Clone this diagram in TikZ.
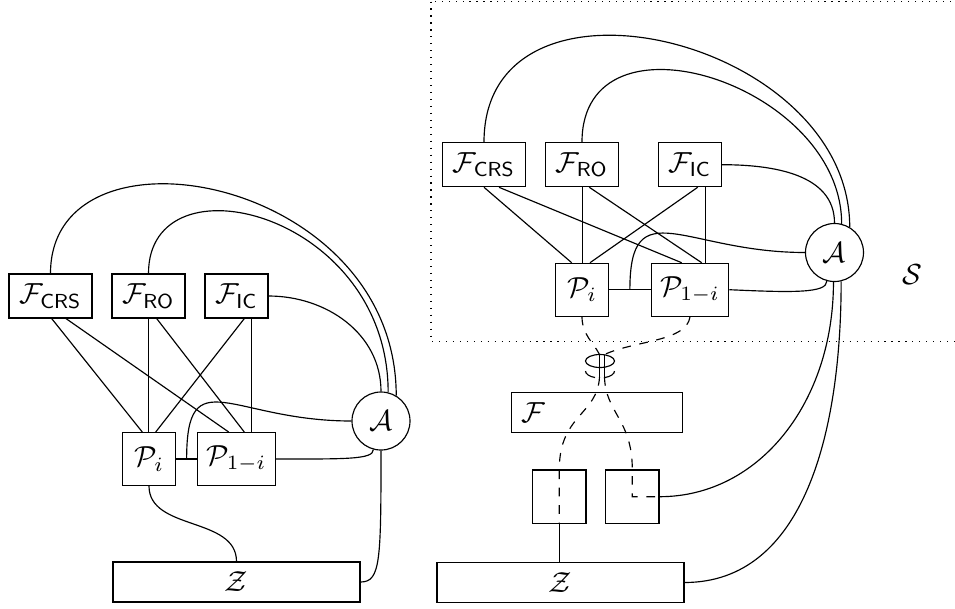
\documentclass[tikz,border=0pt]{standalone}
\usetikzlibrary{calc}
\begin{document}
\begin{tikzpicture}[x=0.3448pt,y=-0.3448pt,
  fbox/.style={draw,inner sep=0pt,minimum height=15.17pt},
  pbox/.style={draw,inner sep=0pt,minimum height=18.2pt},
  adv/.style={draw,circle,inner sep=0pt,minimum size=20pt},
  zbox/.style={draw,inner sep=0pt,minimum width=85.17pt,minimum height=13.8pt},
  sbox/.style={draw,inner sep=0pt,minimum size=18.38pt},
  qwire/.style={dashed}]
\useasboundingbox (0,0) rectangle (955,608);

% ---------------- left picture ----------------
\node[fbox,minimum width=28.62pt] (Fcrs1) at (50.5,296) {$\mathcal{F}_{\mathsf{CRS}}$};
\node[fbox,minimum width=25.17pt] (Fro1) at (148.5,296) {$\mathcal{F}_{\mathsf{RO}}$};
\node[fbox,minimum width=21.72pt] (Fic1) at (236.5,296) {$\mathcal{F}_{\mathsf{IC}}$};
\node[pbox,minimum width=18.27pt] (Pi1) at (149,459) {$\mathcal{P}_i$};
\node[pbox,minimum width=26.7pt] (Pj1) at (236.5,459) {$\mathcal{P}_{1-i}$};
\node[adv] (A1) at (381,421) {$\mathcal{A}$};
\node[zbox] (Z1) at (236.5,582) {$\mathcal{Z}$};

\coordinate (ro1b) at ($(Pi1.north)+(-0.7,0)$);
\draw ($(Fcrs1.south)+(1.2,0)$) -- ($(Pi1.north)+(-6.7,0)$);
\draw ($(Fcrs1.south)+(15.5,0)$) -- ($(Pj1.north)+(-7.8,0)$);
\draw (ro1b) -- (ro1b |- Fro1.south);
\draw ($(Fro1.south)+(8.2,0)$) -- ($(Pj1.north)+(7.8,0)$);
\draw ($(Fic1.south)+(7.8,0)$) -- ($(Pi1.north)+(6.7,0)$);
\draw ($(Fic1.south)+(15.2,0)$) -- ($(Pj1.north)+(15.2,0)$);
\draw (Pi1.east) -- (Pj1.west);
\coordinate (m1) at ($(Pi1.east)!0.5!(Pj1.west)$);

\draw (Fcrs1.north) .. controls ($(Fcrs1.north)+(0,-160)$) and ($(A1.59)+(0,-220)$) .. (A1.59);
\draw (Fro1.north) .. controls ($(Fro1.north)+(0,-120)$) and ($(A1.76)+(0,-180)$) .. (A1.76);
\draw (Fic1.east) to[out=0,in=90] (A1.90);
\draw (A1.west) .. controls ($(A1.west)+(-120,0)$) and ($(m1)+(0,-100)$) .. (m1);
\draw (Pj1.east) .. controls ($(Pj1.east)+(70,0)$) and ($(A1.255)+(0,10)$) .. (A1.255);
\draw (A1.south) .. controls ($(A1.south)+(0,110)$) and ($(Z1.east)+(20,0)$) .. (Z1.east);
\draw (Pi1.south) .. controls ($(Pi1.south)+(0,45)$) and ($(Z1.north)+(0,-45)$) .. (Z1.north);

% ---------------- right picture ----------------
\draw[dotted] (431,1.5) rectangle (960,341.5);
\node (S) at (912,275) {$\mathcal{S}$};

\node[fbox,minimum width=28.62pt] (Fcrs2) at (484,164.7) {$\mathcal{F}_{\mathsf{CRS}}$};
\node[fbox,minimum width=25.17pt] (Fro2) at (582,164.7) {$\mathcal{F}_{\mathsf{RO}}$};
\node[fbox,minimum width=21.72pt] (Fic2) at (690,164.7) {$\mathcal{F}_{\mathsf{IC}}$};
\node[pbox,minimum width=18.27pt] (Pi2) at (582,289.7) {$\mathcal{P}_i$};
\node[pbox,minimum width=26.7pt] (Pj2) at (690,289.7) {$\mathcal{P}_{1-i}$};
\node[adv] (A2) at (834.5,252.5) {$\mathcal{A}$};

\node[draw,inner xsep=3.5pt,inner ysep=0pt,text width=51.96pt,minimum height=13.8pt,align=left] (F) at (597.2,412.5) {$\mathcal{F}$};
\node[sbox] (B1) at (559.3,496.7) {};
\node[sbox] (B2) at (632.3,496.7) {};
\node[zbox] (Z2) at (560.5,582.5) {$\mathcal{Z}$};

\draw (Fcrs2.south) -- ($(Pi2.north)+(-10.3,0)$);
\draw ($(Fcrs2.south)+(15,0)$) -- ($(Pj2.north)+(-8.3,0)$);
\draw ($(Fro2.south)+(0.5,0)$) -- ($(Pi2.north)+(0.5,0)$);
\draw ($(Fro2.south)+(7.3,0)$) -- ($(Pj2.north)+(11.7,0)$);
\draw ($(Fic2.south)+(7.7,0)$) -- ($(Pi2.north)+(8,0)$);
\draw ($(Fic2.south)+(15.5,0)$) -- ($(Pj2.north)+(15.5,0)$);
\draw (Pi2.east) -- (Pj2.west);
\coordinate (m2) at ($(Pi2.east)!0.5!(Pj2.west)$);

\draw (Fcrs2.north) .. controls ($(Fcrs2.north)+(0,-190)$) and ($(A2.59)+(0,-190)$) .. (A2.59);
\draw (Fro2.north) .. controls ($(Fro2.north)+(0,-140)$) and ($(A2.76)+(0,-140)$) .. (A2.76);
\draw (Fic2.east) to[out=0,in=90] (A2.90);
\draw (A2.west) .. controls ($(A2.west)+(-120,0)$) and ($(m2)+(0,-100)$) .. (m2);
\draw (Pj2.east) .. controls ($(Pj2.east)+(65,3)$) and ($(A2.255)+(0,12)$) .. (A2.255);
\draw (B2.east) .. controls ($(B2.east)+(100,0)$) and ($(A2.268)+(0,120)$) .. (A2.268);
\draw (Z2.east) .. controls ($(Z2.east)+(120,0)$) and ($(A2.283)+(0,150)$) .. (A2.283);

% knot: two stacked rings round the two wires
\coordinate (kt1) at (599.5,354.5);
\coordinate (kb1) at (599.5,377);
\coordinate (kt2) at (604.5,354.5);
\coordinate (kb2) at (604.5,377);
\draw (600,361) ellipse[x radius=5pt,y radius=2.24pt];
\draw (585.5,371) arc[start angle=180,end angle=250,x radius=5pt,y radius=2.4pt];
\draw (614.5,371) arc[start angle=0,end angle=-70,x radius=5pt,y radius=2.4pt];
\draw (kt1) -- (kb1);
\draw (kt2) -- (kb2);

\draw[qwire] (Pi2.south) .. controls ($(Pi2.south)+(0,18)$) and ($(kt1)+(-6,-12)$) .. (kt1);
\draw[qwire] (Pj2.south) .. controls ($(Pj2.south)+(-3,25)$) and ($(kt2)+(30,-14)$) .. (kt2);
\draw[qwire] (kb1) .. controls ($(kb1)+(-2,38)$) and ($(B1.north)+(0,-55)$) .. (B1.north) -- (B1.south);
\draw[qwire] (kb2) .. controls ($(kb2)+(1,36)$) and ($(B2.north)+(0,-50)$) .. (B2.north) -- (B2.center) -- (B2.east);
\draw (B1.south) -- (B1.south |- Z2.north);
\end{tikzpicture}
\end{document}
